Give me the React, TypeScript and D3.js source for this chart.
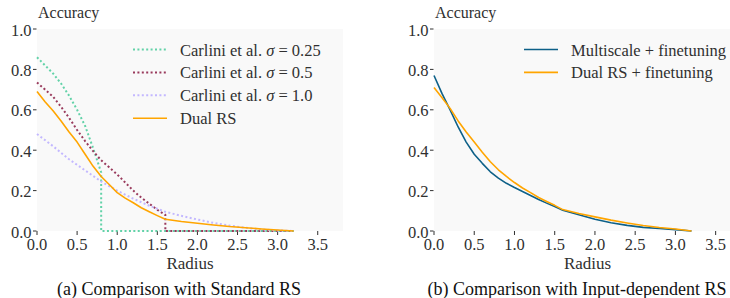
import React from "react";
import * as d3 from "d3";

// radius / certified accuracy pairs
const carlini025: [number, number][] = [
  [0, 0.86], [0.1, 0.82], [0.2, 0.78], [0.3, 0.73], [0.4, 0.67], [0.5, 0.6],
  [0.6, 0.52], [0.7, 0.41], [0.8, 0.29], [0.8, 0], [3.2, 0],
];
const carlini05: [number, number][] = [
  [0, 0.735], [0.1, 0.7], [0.2, 0.665], [0.3, 0.615], [0.4, 0.56], [0.5, 0.5],
  [0.6, 0.445], [0.7, 0.395], [0.8, 0.35], [0.9, 0.315], [1.0, 0.28],
  [1.1, 0.24], [1.2, 0.2], [1.3, 0.165], [1.4, 0.135], [1.5, 0.105],
  [1.6, 0.08], [1.6, 0], [3.2, 0],
];
const carlini10: [number, number][] = [
  [0, 0.48], [0.2, 0.42], [0.4, 0.355], [0.6, 0.3], [0.8, 0.245], [1.0, 0.2],
  [1.2, 0.16], [1.4, 0.125], [1.6, 0.095], [1.8, 0.075], [2.0, 0.057],
  [2.2, 0.04], [2.4, 0.027], [2.6, 0.016], [2.8, 0.008], [3.0, 0.003], [3.2, 0],
];
const dualRS: [number, number][] = [
  [0, 0.69], [0.1, 0.64], [0.2, 0.595], [0.3, 0.545], [0.4, 0.49], [0.5, 0.44],
  [0.6, 0.38], [0.7, 0.32], [0.8, 0.27], [0.9, 0.23], [1.0, 0.19], [1.1, 0.163],
  [1.2, 0.14], [1.3, 0.115], [1.4, 0.095], [1.5, 0.076], [1.6, 0.058],
  [1.8, 0.047], [2.0, 0.038], [2.2, 0.03], [2.4, 0.022], [2.6, 0.016],
  [2.8, 0.01], [3.0, 0.005], [3.2, 0],
];
const multiscaleFT: [number, number][] = [
  [0, 0.77], [0.1, 0.68], [0.2, 0.6], [0.3, 0.515], [0.4, 0.44], [0.5, 0.38],
  [0.6, 0.335], [0.7, 0.293], [0.8, 0.262], [0.9, 0.236], [1.0, 0.215],
  [1.1, 0.196], [1.2, 0.176], [1.3, 0.156], [1.4, 0.138], [1.5, 0.121],
  [1.6, 0.103], [1.8, 0.08], [2.0, 0.058], [2.2, 0.041], [2.4, 0.028],
  [2.6, 0.018], [2.8, 0.012], [3.0, 0.007], [3.2, 0],
];
const dualRSFT: [number, number][] = [
  [0, 0.71], [0.1, 0.66], [0.2, 0.607], [0.3, 0.545], [0.4, 0.49], [0.5, 0.44],
  [0.6, 0.39], [0.7, 0.343], [0.8, 0.303], [0.9, 0.27], [1.0, 0.24],
  [1.1, 0.213], [1.2, 0.19], [1.3, 0.166], [1.4, 0.146], [1.5, 0.127],
  [1.6, 0.106], [1.8, 0.087], [2.0, 0.07], [2.2, 0.054], [2.4, 0.04],
  [2.6, 0.027], [2.8, 0.017], [3.0, 0.01], [3.2, 0],
];

const xTicks = [0, 0.5, 1, 1.5, 2, 2.5, 3, 3.5];
const yTicks = [0, 0.2, 0.4, 0.6, 0.8, 1.0];

const leftSeries = [
  { name: "Carlini et al. ", sigma: "0.25", data: carlini025, color: "#62d2a8", dotted: true },
  { name: "Carlini et al. ", sigma: "0.5", data: carlini05, color: "#993a5c", dotted: true },
  { name: "Carlini et al. ", sigma: "1.0", data: carlini10, color: "#c3b8ff", dotted: true },
  { name: "Dual RS", sigma: null, data: dualRS, color: "#ffa500", dotted: false },
];
const rightSeries = [
  { name: "Multiscale + finetuning", sigma: null, data: multiscaleFT, color: "#0d6088", dotted: false },
  { name: "Dual RS + finetuning", sigma: null, data: dualRSFT, color: "#ffa500", dotted: false },
];

const FONT = "'Liberation Serif', 'Times New Roman', Times, 'Noto Serif', 'DejaVu Serif', FreeSerif, 'Nimbus Roman', serif";
const AXIS_TEXT = "#303030";

type Series = (typeof leftSeries)[number];

function Panel({ x0, x1, series, caption, captionX, legendX }: {
  x0: number; x1: number; series: Series[]; caption: string; captionX: number; legendX: number;
}) {
  const yTop = 29;
  const yBot = 231;
  const x = d3.scaleLinear().domain([0, 3.815]).range([x0, x1]);
  const y = d3.scaleLinear().domain([0, 1]).range([yBot, yTop]);
  const line = d3.line<[number, number]>().x(d => x(d[0])).y(d => y(d[1]));

  return (
    <g>
      <rect x={x0} y={yTop} width={x1 - x0} height={yBot - yTop} fill="#f9f9f9" />
      {yTicks.map(t => (
        <g key={"y" + t}>
          <line x1={x0 - 4} x2={x0 - 0.5} y1={y(t)} y2={y(t)} stroke={AXIS_TEXT} strokeWidth={1} />
          <text x={x0 - 5.5} y={y(t) + 6.5} textAnchor="end" fontSize={16.5} fill={AXIS_TEXT}>
            {d3.format(".1f")(t)}
          </text>
        </g>
      ))}
      {xTicks.map(t => (
        <g key={"x" + t}>
          <line x1={x(t)} x2={x(t)} y1={yBot} y2={yBot + 4} stroke={AXIS_TEXT} strokeWidth={1} />
          <text x={x(t)} y={250} textAnchor="middle" fontSize={16.5} fill={AXIS_TEXT}>
            {d3.format(".1f")(t)}
          </text>
        </g>
      ))}
      <text x={x0 + 1} y={18} fontSize={16} fill={AXIS_TEXT}>Accuracy</text>
      <text x={(x0 + x1) / 2} y={269} textAnchor="middle" fontSize={17} fill={AXIS_TEXT}>Radius</text>
      <text x={captionX} y={294.5} textAnchor="middle" fontSize={18} fill="#111">{caption}</text>

      {series.map(s => (
        <path key={s.name + s.sigma} d={line(s.data) ?? ""} fill="none" stroke={s.color}
          strokeWidth={s.dotted ? 2 : 1.6} strokeDasharray={s.dotted ? "2,2.4" : undefined}
          strokeLinejoin="round" />
      ))}

      {series.map((s, i) => {
        const ly = 49.5 + i * 22.9;
        return (
          <g key={"lg" + i}>
            <line x1={legendX} x2={legendX + 34} y1={ly} y2={ly} stroke={s.color}
              strokeWidth={s.dotted ? 2 : 1.6} strokeDasharray={s.dotted ? "2,2.4" : undefined} />
            <text x={legendX + 47} y={ly + 6} fontSize={16.5} fill={AXIS_TEXT}>
              {s.name}
              {s.sigma !== null && (
                <>
                  <tspan fontStyle="italic">σ</tspan>
                  {" = " + s.sigma}
                </>
              )}
            </text>
          </g>
        );
      })}
    </g>
  );
}

export default function App() {
  return (
    <svg width={730} height={298} viewBox="0 0 730 298"
      style={{ position: "absolute", left: 0, top: 0, background: "#fff", fontFamily: FONT }}>
      <Panel x0={37} x1={343} series={leftSeries} caption="(a) Comparison with Standard RS"
        captionX={179} legendX={133} />
      <Panel x0={434} x1={741} series={rightSeries} caption="(b) Comparison with Input-dependent RS"
        captionX={577} legendX={524} />
    </svg>
  );
}
